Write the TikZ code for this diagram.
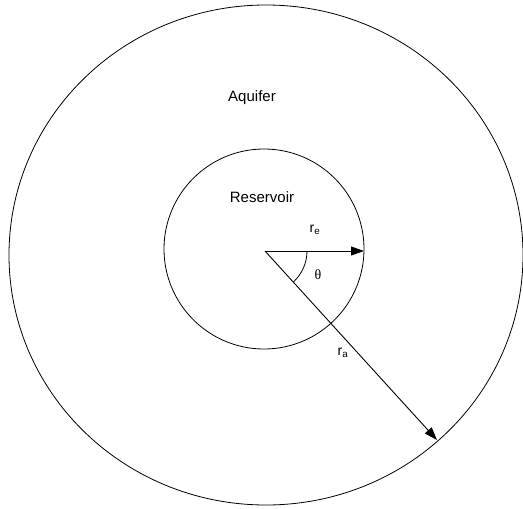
\documentclass[tikz,border=0pt]{standalone}
\usepackage{fontspec}
\setmainfont{Liberation Sans}
\newfontfamily\greekfont{Liberation Serif}
\usetikzlibrary{arrows.meta,shapes.geometric,calc}
\tikzset{
  %% boundaries
  bound/.style  = {draw = black, line width = 0.8pt},
  %% labels
  lab/.style    = {font = \fontsize{15}{17}\selectfont, inner sep = 0pt},
  sublab/.style = {font = \fontsize{14}{16}\selectfont, inner sep = 0pt},
  %% radius arrows
  rarr/.style   = {-{Triangle[length=13pt, width=9pt]}, line width = 0.9pt},
}
\begin{document}
\begin{tikzpicture}[x=1pt, y=-1pt]
  \useasboundingbox (0,0) rectangle (523,509);
  \coordinate (c) at (265,251);
  %% aquifer and reservoir boundaries
  \node[bound, ellipse, minimum width=514pt, minimum height=500pt, inner sep=0pt]
    (aq) at (266,255) {};
  \node[bound, circle, minimum size=200pt, inner sep=0pt]
    (res) at (264,249) {};
  \node[lab] (aqlab)  at (252,98)  {Aquifer};
  \node[lab] (reslab) at (262,197) {Reservoir};
  %% radii
  \coordinate (re) at (364,251);
  \coordinate (ra) at (437,440);
  \draw[rarr] (c) -- (re);
  \draw[rarr] (c) -- (ra);
  \draw[line width=0.8pt] ($(c)+(42,0)$) arc[start angle=0, end angle=-47.7, radius=42pt];
  \node[sublab] (relab) at (315,230) {r\textsubscript{e}};
  \node[sublab] (ralab) at (343,353) {r\textsubscript{a}};
  \node[sublab] (thlab) at (318,275) {\greekfont θ};
\end{tikzpicture}
\end{document}
